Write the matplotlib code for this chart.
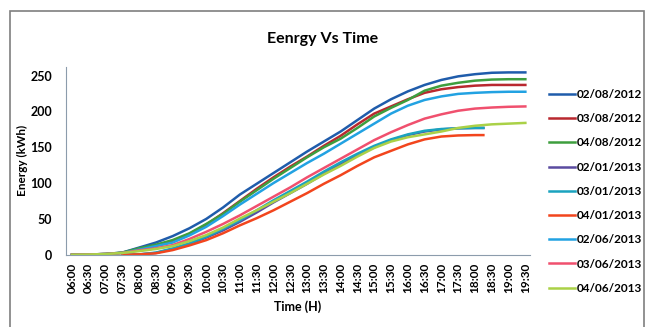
import matplotlib
matplotlib.use("Agg")
import matplotlib.pyplot as plt
from matplotlib.patches import Rectangle
import numpy as np

plt.rcParams['font.family'] = ['Lato', 'DejaVu Sans']
plt.rcParams['font.weight'] = 'bold'
plt.rcParams['axes.labelweight'] = 'bold'

# half-hour categories on the x axis
times = ["06:00", "06:30", "07:00", "07:30", "08:00", "08:30", "09:00", "09:30",
         "10:00", "10:30", "11:00", "11:30", "12:00", "12:30", "13:00", "13:30",
         "14:00", "14:30", "15:00", "15:30", "16:00", "16:30", "17:00", "17:30",
         "18:00", "18:30", "19:00", "19:30"]

# summer / june days run the whole day (06:00 - 19:30)
e_020812 = [0, 0.3, 1, 3, 10, 17, 26, 37, 50, 66, 84, 99, 114, 129, 144, 158,
            172, 188, 204, 217, 228, 237, 244, 249, 252, 254, 254.5, 254.5]
e_030812 = [0, 0.3, 1, 2.5, 8, 13, 19, 29, 42, 58, 75, 92, 108, 123, 137, 152,
            166, 182, 197, 207, 217, 226, 231, 234, 236, 237, 237, 237]
e_040812 = [0, 0.3, 1, 3, 9, 14, 20.5, 30, 43, 57, 74, 90, 106, 121, 136, 150,
            162, 177, 193, 205, 216, 229, 236, 240, 243, 244.5, 245, 245]
e_020613 = [0, 0.3, 1, 2.5, 7, 12, 17, 27, 39, 54, 70, 85, 100, 114, 128, 141,
            155, 169, 183, 197, 208, 216, 221, 224.5, 226, 227, 227.5, 227.5]
e_030613 = [0, 0.3, 1, 2.5, 6, 9, 13.4, 22, 32, 43, 55, 68, 81, 94, 108, 121,
            134, 147, 160, 171, 181, 190, 196, 201, 204, 205.5, 206.5, 207]
e_040613 = [0, 0.3, 1, 2.5, 5, 8, 12, 19, 27.4, 38, 50.5, 62, 74, 86, 99, 112,
            124, 137, 149, 158, 164, 168, 172, 177, 180, 182, 183, 184]

# january days: 07:30 - 18:15
jan_times = ["07:30", "08:00", "08:30", "09:00", "09:30", "10:00", "10:30", "11:00",
             "11:30", "12:00", "12:30", "13:00", "13:30", "14:00", "14:30", "15:00",
             "15:30", "16:00", "16:30", "17:00", "17:30", "18:00", "18:15"]
e_020113 = [0, 0.3, 2.5, 8, 15, 24, 34, 46, 59, 73, 86, 99, 113, 126, 139, 150,
            160, 167, 172, 175, 176.5, 177, 177]
e_030113 = [0, 0.5, 3, 8.8, 16, 25, 36, 48, 62, 76, 89, 102, 116, 129, 141, 152,
            161, 168, 173, 175.5, 176.5, 177, 177]
e_040113 = [0, 0.5, 2, 6.5, 13, 20.4, 30, 41, 51, 62, 74, 86, 99, 111, 124, 136,
            145, 154, 161, 165, 166.5, 167, 167]


def to_idx(labels):
    # position on the half-hour category axis
    out = []
    for t in labels:
        h, m = t.split(":")
        out.append((int(h) - 6) * 2 + int(m) / 30)
    return np.array(out)


x_full = to_idx(times)
x_jan = to_idx(jan_times)

series = [
    ("02/08/2012", x_full, e_020812, "#1F5CAB"),
    ("03/08/2012", x_full, e_030812, "#B9282F"),
    ("04/08/2012", x_full, e_040812, "#3E9E3E"),
    ("02/01/2013", x_jan, e_020113, "#5A4BA0"),
    ("03/01/2013", x_jan, e_030113, "#1AA3BF"),
    ("04/01/2013", x_jan, e_040113, "#F2451D"),
    ("02/06/2013", x_full, e_020613, "#22A2E2"),
    ("03/06/2013", x_full, e_030613, "#F0506E"),
    ("04/06/2013", x_full, e_040613, "#AAD147"),
]

fig = plt.figure(figsize=(6.46, 3.27), dpi=100)
ax = fig.add_axes([0.102, 0.221, 0.718, 0.574])

for name, xs, ys, c in series:
    ax.plot(xs, ys, color=c, lw=1.8, label=name, solid_joinstyle="round")

ax.set_xlim(-0.36, 27.26)
ax.set_ylim(0, 262)
ax.set_xticks(x_full)
ax.set_xticklabels(times, rotation=90, fontsize=8.5)
ax.set_yticks([0, 50, 100, 150, 200, 250])
ax.tick_params(axis='y', length=0, pad=10, labelsize=9)
ax.tick_params(axis='x', length=0, pad=6)
for s in ["top", "right"]:
    ax.spines[s].set_visible(False)
for s in ["left", "bottom"]:
    ax.spines[s].set_color("#8C9CAC")

ax.set_xlabel("Time (H)", fontsize=9, labelpad=5)
ax.set_ylabel("Energy (kWh)", fontsize=8.5)
ax.yaxis.set_label_coords(-0.082, 0.505)
fig.text(0.5, 1 - 39 / 327, "Eenrgy Vs Time", ha="center", va="center",
         fontsize=11.5, fontweight="bold")

fig.legend(loc="upper left", bbox_to_anchor=(549 / 646, 1 - 89 / 327),
           frameon=False, fontsize=8.5, handlelength=2.2, handletextpad=0.15,
           borderpad=0, borderaxespad=0, labelspacing=1.12)

fig.patches.append(Rectangle((10 / 646, -0.05), 634 / 646, 1 - 11 / 327 + 0.05,
                             transform=fig.transFigure, fill=False,
                             edgecolor="#7F7F7F", lw=1.2))

fig.savefig("out.png", dpi=100)
